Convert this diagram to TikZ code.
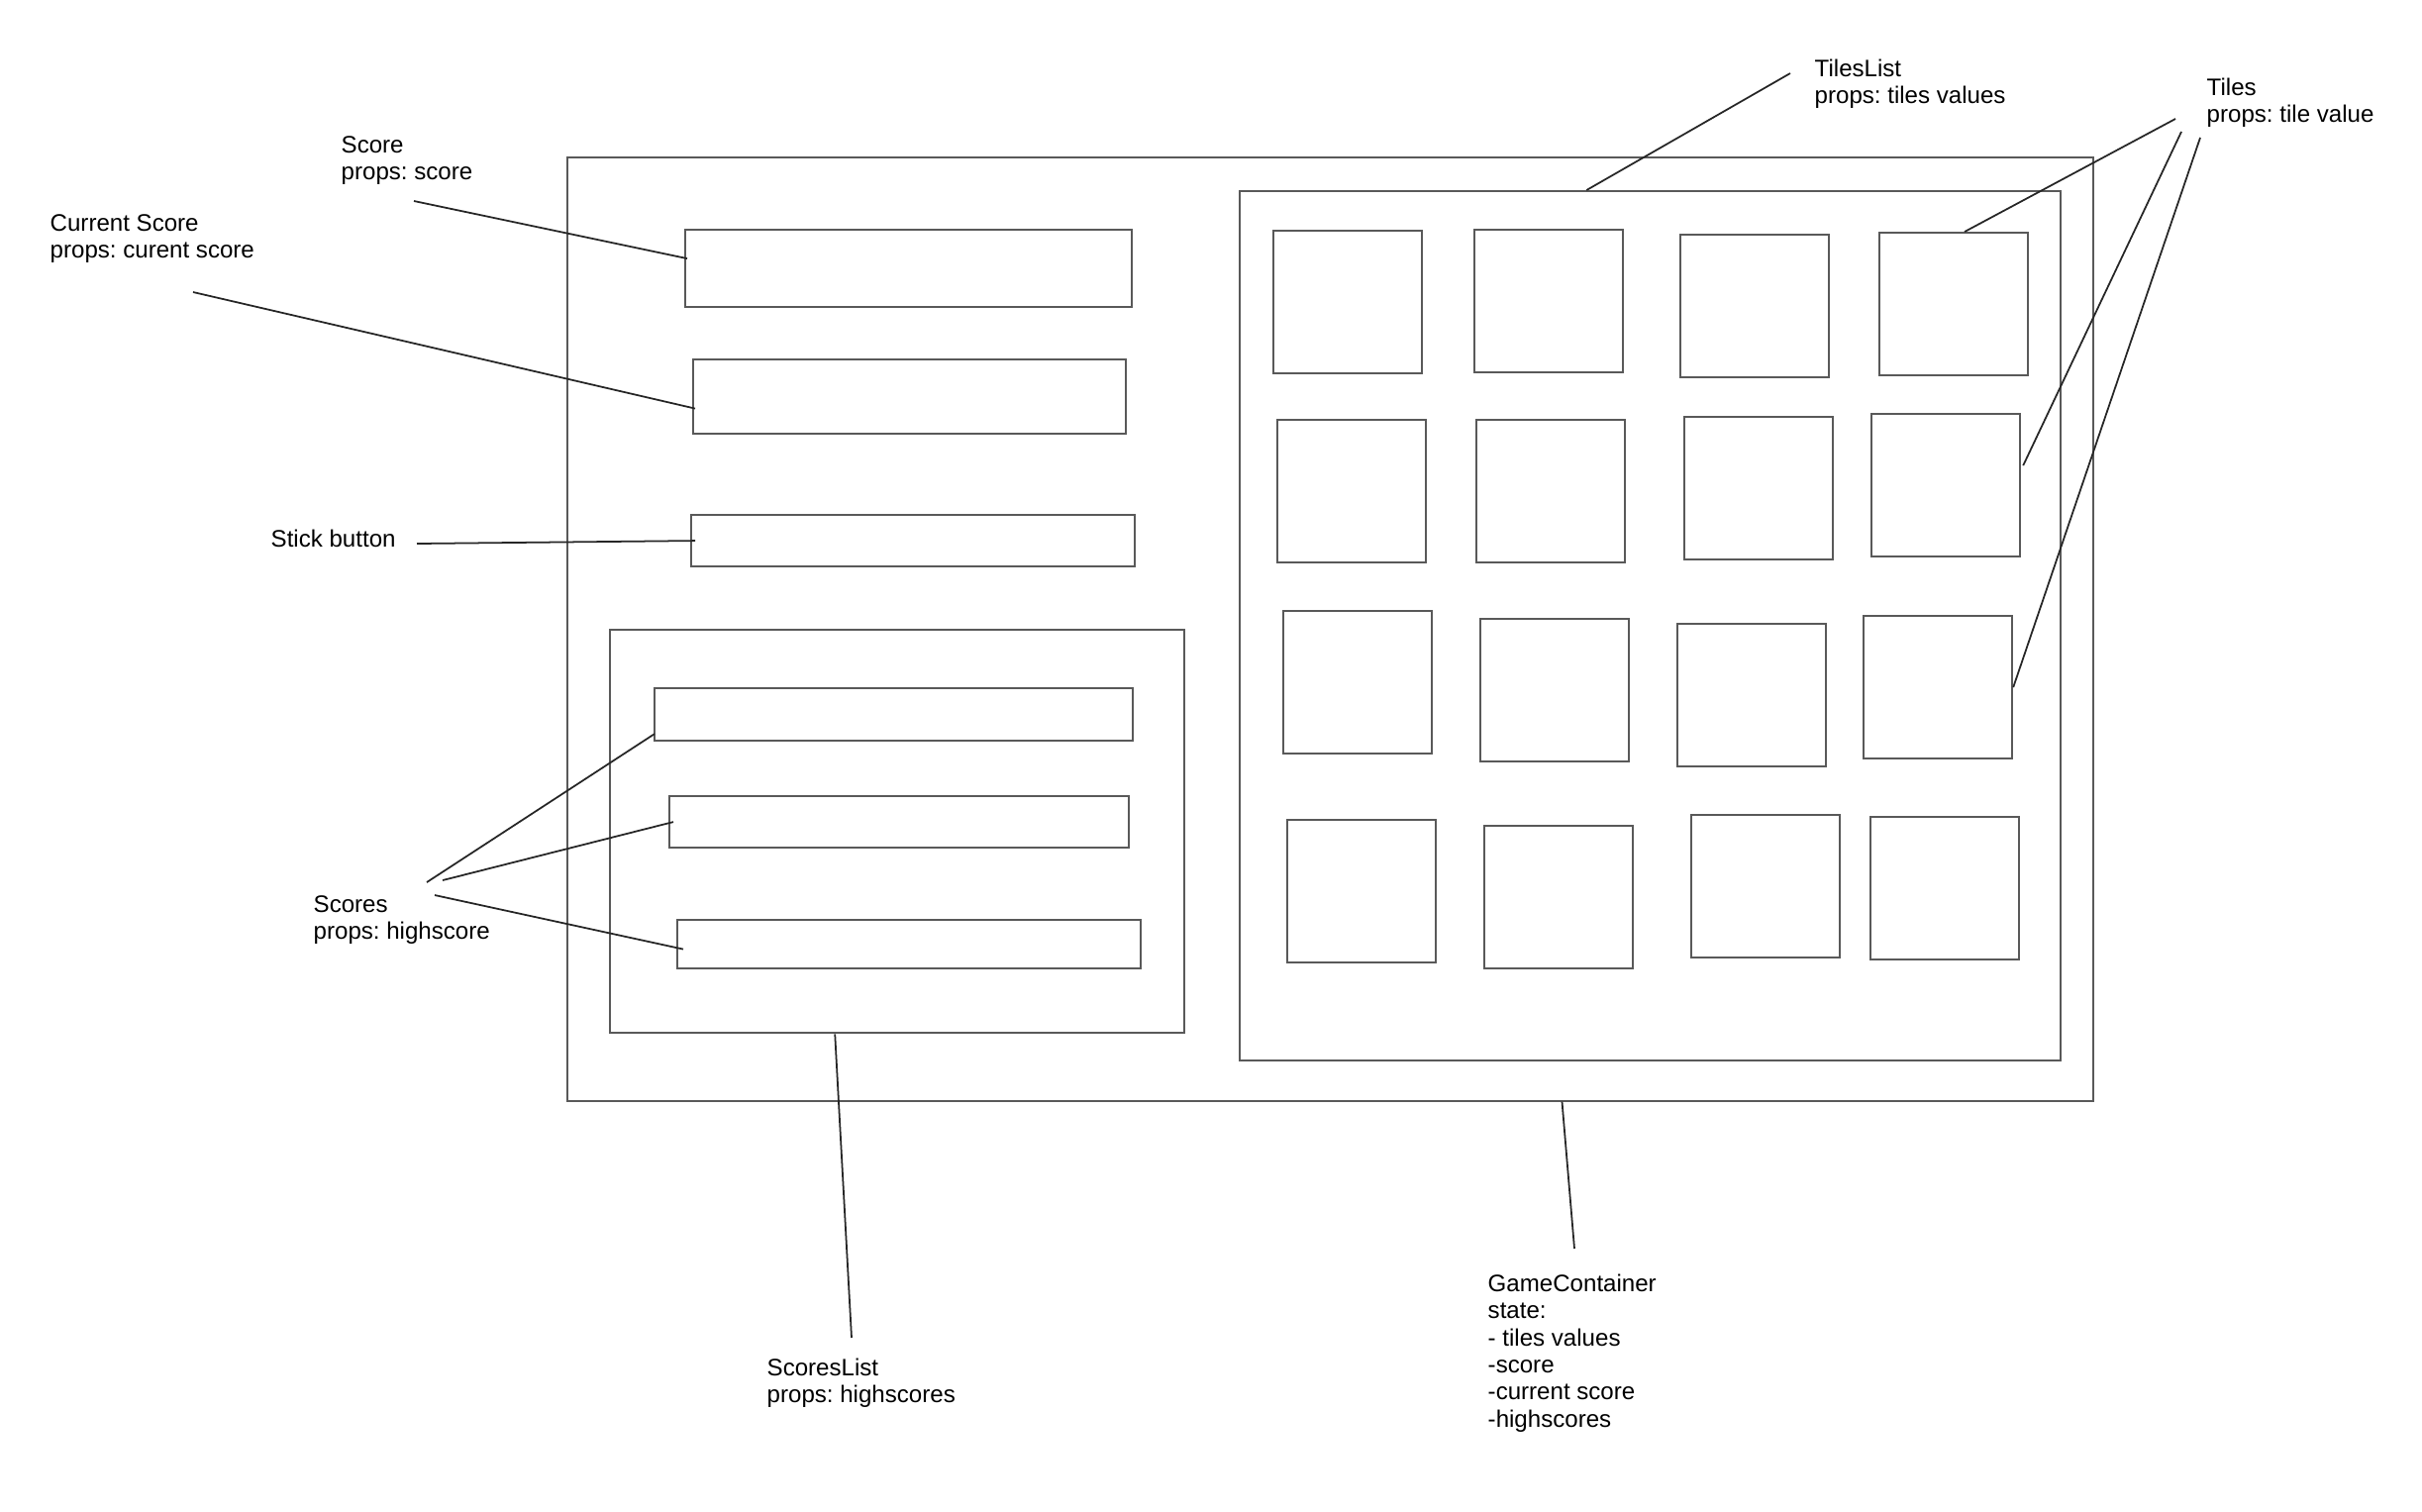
\documentclass[tikz,border=0pt]{standalone}
\usepackage{fontspec}
\setmainfont{Liberation Sans}
\usetikzlibrary{calc}
\frenchspacing

\tikzset{
	box/.style={draw=black!65, line width=0.6pt, inner sep=0pt, anchor=north west},
	tile/.style={box, minimum width=1.5cm, minimum height=1.44cm},
	lbl/.style={anchor=north west, align=left, inner sep=0pt, font=\fontsize{6.85}{7.8}\selectfont},
	link/.style={draw=black!85, line width=0.5pt}
}

\begin{document}
\begin{tikzpicture}[x=0.01cm, y=-0.01cm]
		\useasboundingbox (0,0) rectangle (2446,1526);

		% Containers
		\node[box, minimum width=15.40cm, minimum height=9.52cm] (game) at (572,158) {};
		\node[box, minimum width=8.28cm, minimum height=8.77cm] (tileslist) at (1251,192) {};
		\node[box, minimum width=5.80cm, minimum height=4.07cm] (scoreslist) at (615,635) {};

		% Left column
		\node[box, minimum width=4.51cm, minimum height=0.78cm] (scorebar) at (691,231) {};
		\node[box, minimum width=4.37cm, minimum height=0.75cm] (curbar) at (699,362) {};
		\node[box, minimum width=4.48cm, minimum height=0.52cm] (stick) at (697,519) {};
		\node[box, minimum width=4.83cm, minimum height=0.53cm] (row1) at (660,694) {};
		\node[box, minimum width=4.64cm, minimum height=0.52cm] (row2) at (675,803) {};
		\node[box, minimum width=4.68cm, minimum height=0.49cm] (row3) at (683,928) {};

		% Tiles
		\foreach \name/\x/\y in {t11/1285/232, t12/1488/231, t13/1696/236, t14/1897/234,
			t21/1289/423, t22/1490/423, t23/1700/420, t24/1889/417,
			t31/1295/616, t32/1494/624, t33/1693/629, t34/1881/621,
			t41/1299/827, t42/1498/833, t43/1707/822, t44/1888/824}
			\node[tile] (\name) at (\x,\y) {};

		% Labels
		\node[lbl] (scorelbl) at (344,137) {Score\\props: score};
		\node[lbl] (curlbl) at (50,216) {Current Score\\props: curent score};
		\node[lbl] (sticklbl) at (273,534) {Stick button};
		\node[lbl] (scoreslbl) at (316,904) {Scores\\props: highscore};
		\node[lbl] (listlbl) at (774,1371) {ScoresList\\props: highscores};
		\node[lbl] (gamelbl) at (1502,1286) {GameContainer\\state:\\- tiles values\\-score\\-current score\\-highscores};
		\node[lbl] (tileslbl) at (1832,59) {TilesList\\props: tiles values};
		\node[lbl] (tilelbl) at (2228,78) {Tiles\\props: tile value};

		% Free ends near the labels
		\coordinate (c1) at (418,203);
		\coordinate (c2) at (195,295);
		\coordinate (c3) at (421,549);
		\coordinate (c4) at (431,891);
		\coordinate (c5) at (447,889);
		\coordinate (c6) at (439,904);
		\coordinate (c7) at (860,1351);
		\coordinate (c8) at (1590,1261);
		\coordinate (c9) at (1808,74);
		\coordinate (c10) at (2197,120);
		\coordinate (c11) at (2203,133);
		\coordinate (c12) at (2222,139);

		% Connectors
		\draw[link] (c1) -- ($(scorebar.west)+(3,-10)$);
		\draw[link] (c2) -- ($(curbar.west)+(3,12)$);
		\draw[link] (c3) -- ($(stick.west)+(5,0)$);
		\draw[link] (c4) -- ($(row1.south west)+(1,-8)$);
		\draw[link] (c5) -- ($(row2.west)+(5,0)$);
		\draw[link] (c6) -- ($(row3.west)+(7,5)$);
		\draw[link] (c7) -- ($(scoreslist.south)+(-63,0)$);
		\draw[link] (c8) -- ($(game.south)+(234,0)$);
		\draw[link] (c9) -- ($(tileslist.north)+(-64,0)$);
		\draw[link] (c10) -- ($(t14.north)+(11,0)$);
		\draw[link] (c11) -- ($(t24.east)+(2,-20)$);
		\draw[link] (c12) -- (t34.east);
	\end{tikzpicture}
\end{document}
